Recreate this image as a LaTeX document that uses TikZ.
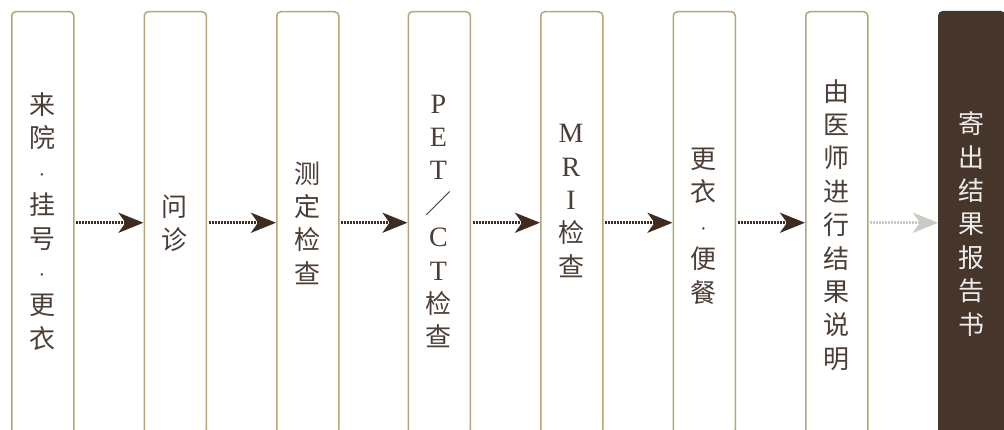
\documentclass[tikz,border=0pt]{standalone}
\usepackage{fontspec}
\setmainfont{Liberation Serif}
\newfontfamily\cjk{Noto Sans CJK SC}
\usetikzlibrary{arrows.meta}
\definecolor{framec}{HTML}{B5A57A}
\definecolor{txtc}{HTML}{4B3E36}
\definecolor{arrowc}{HTML}{3E2C21}
\definecolor{darkc}{HTML}{46352A}
\definecolor{fadec}{HTML}{CCC8C4}
\newcommand{\lat}[1]{{\rmfamily\fontsize{28}{33.4}\selectfont #1}}
\newcommand{\mdot}{{\rmfamily\fontsize{20}{33.4}\selectfont ·}}
\begin{document}
\begin{tikzpicture}[x=1pt,y=-1pt,
  stepbox/.style={draw=framec, line width=1.5pt, rounded corners=4pt, fill=white,
    anchor=north west, minimum width=62pt, minimum height=422pt, inner sep=0pt},
  darkbox/.style={stepbox, draw=darkc, fill=darkc, minimum width=66pt},
  lbl/.style={font=\cjk\fontsize{26}{33.4}\selectfont, align=center, text=txtc, inner sep=0pt},
  flow/.style={draw=arrowc, line width=3pt, dash pattern=on 2pt off 1pt,
    -{Stealth[length=25pt, width=20pt, inset=7pt]}},
  fadeflow/.style={flow, draw=fadec}]
\useasboundingbox (0,0) rectangle (1004,430);
\clip (0,0) rectangle (1004,430);
\fill[white] (0,0) rectangle (1004,430);

\node[stepbox] (b1) at (11,11) {};
\node[stepbox] (b2) at (143.5,11) {};
\node[stepbox] (b3) at (276,11) {};
\node[stepbox] (b4) at (407.5,11) {};
\node[stepbox] (b5) at (540,11) {};
\node[stepbox] (b6) at (672.5,11) {};
\node[stepbox] (b7) at (805,11) {};
\node[darkbox] (b8) at (938,11) {};

\node[lbl] (t1) at (42,221.5) {来\\院\\\mdot\\挂\\号\\\mdot\\更\\衣};
\node[lbl] (t2) at (174.5,223) {问\\诊};
\node[lbl] (t3) at (307,223) {测\\定\\检\\查};
\node[lbl] (t4) at (438.5,221.5) {\lat{P}\\\lat{E}\\\lat{T}\\／\\\lat{C}\\\lat{T}\\检\\查};
\node[lbl] (t5) at (571,201) {\lat{M}\\\lat{R}\\\lat{I}\\检\\查};
\node[lbl] (t6) at (703.5,226) {更\\衣\\\mdot\\便\\餐};
\node[lbl] (t7) at (836,225) {由\\医\\师\\进\\行\\结\\果\\说\\明};
\node[lbl, text=white!90!darkc] (t8) at (971,224) {寄\\出\\结\\果\\报\\告\\书};

\draw[flow] ([xshift=1.5pt]b1.east) -- (b2.west);
\draw[flow] ([xshift=1.5pt]b2.east) -- (b3.west);
\draw[flow] ([xshift=1.5pt]b3.east) -- (b4.west);
\draw[flow] ([xshift=1.5pt]b4.east) -- (b5.west);
\draw[flow] ([xshift=1.5pt]b5.east) -- (b6.west);
\draw[flow] ([xshift=1.5pt]b6.east) -- (b7.west);
\draw[fadeflow] ([xshift=1.5pt]b7.east) -- (b8.west);
\end{tikzpicture}
\end{document}
